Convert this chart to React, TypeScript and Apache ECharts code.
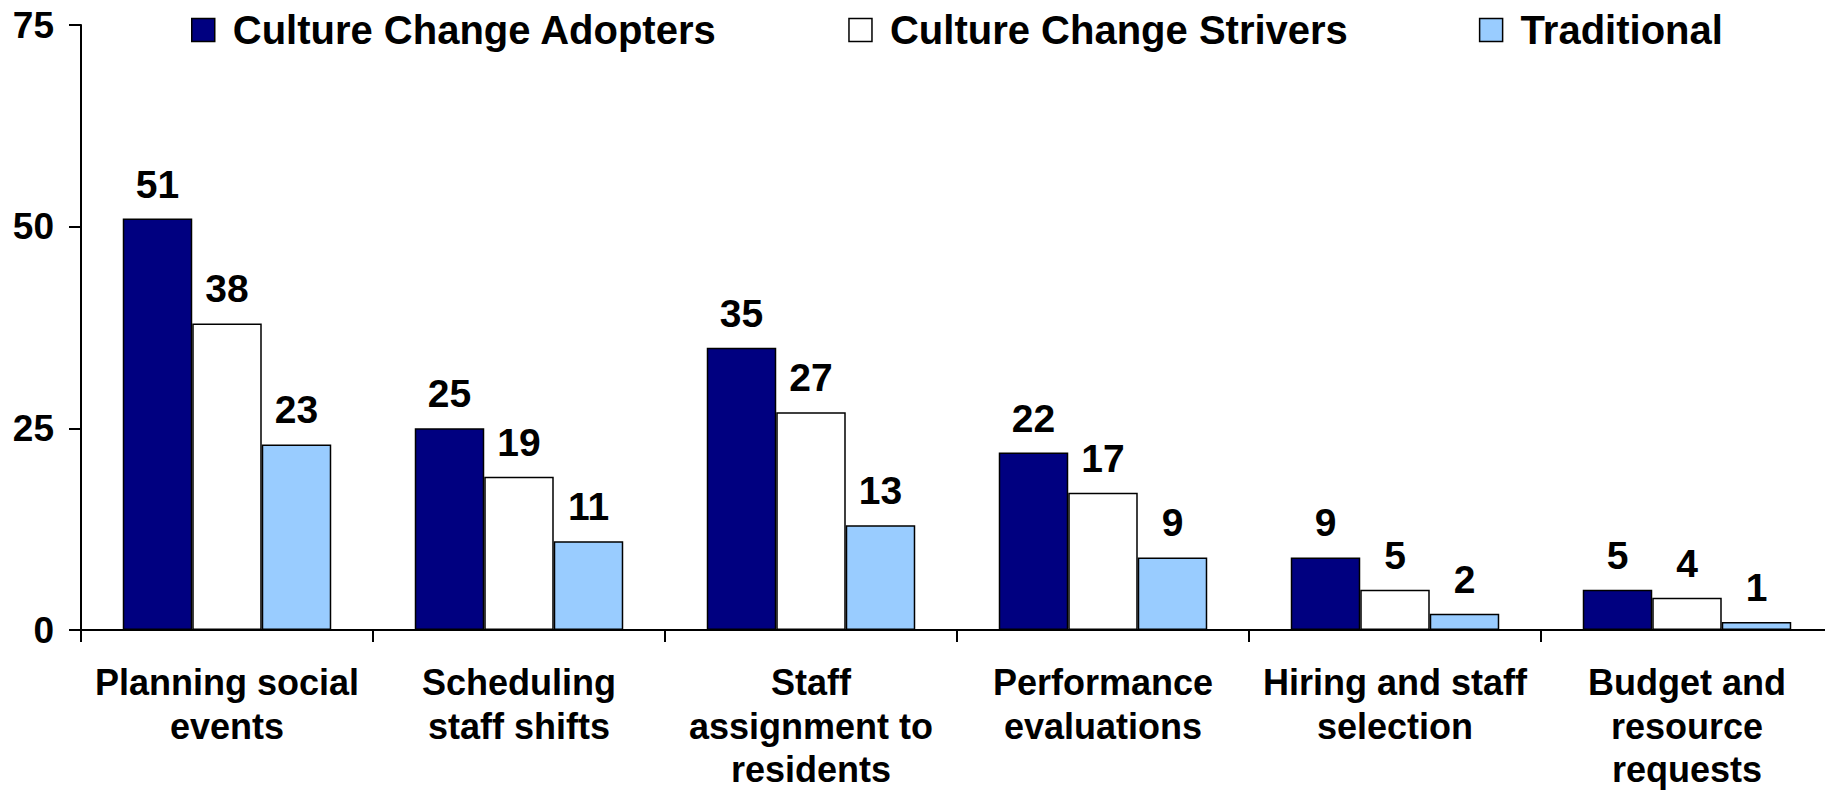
import React, { useEffect, useRef } from "react";
import * as echarts from "echarts";

const categories = [
  "Planning social\nevents",
  "Scheduling\nstaff shifts",
  "Staff\nassignment to\nresidents",
  "Performance\nevaluations",
  "Hiring and staff\nselection",
  "Budget and\nresource\nrequests",
];
const seriesNames = ["Culture Change Adopters", "Culture Change Strivers", "Traditional"];
const adopters = [51, 25, 35, 22, 9, 5];
const strivers = [38, 19, 27, 17, 5, 4];
const traditional = [23, 11, 13, 9, 2, 1];
const seriesColors = ["#000080", "#FFFFFF", "#99CCFF"];
const yTicks = { min: 0, max: 75, interval: 25 };

export default function App() {
  const ref = useRef<HTMLDivElement>(null);
  useEffect(() => {
    document.body.style.margin = "0";
    document.body.style.overflow = "hidden";
    if (!ref.current) return;
    const chart = echarts.init(ref.current, null, { renderer: "svg" });
    const font = "'Liberation Sans', Arial, sans-serif";
    const values = [adopters, strivers, traditional];
    chart.setOption({
      animation: false,
      backgroundColor: "#ffffff",
      textStyle: { fontFamily: font },
      legend: {
        left: 191,
        top: 10,
        padding: 0,
        itemGap: 131,
        itemWidth: 23,
        itemHeight: 23,
        icon: "rect",
        itemStyle: { borderColor: "#000", borderWidth: 1.5 },
        textStyle: {
          fontFamily: font,
          fontSize: 40,
          fontWeight: "bold",
          color: "#000",
          padding: [0, 0, 0, 13],
        },
        data: seriesNames,
      },
      grid: {
        left: 81,
        top: 25,
        width: 1752,
        height: 605,
        containLabel: false,
        outerBoundsMode: "none",
      },
      xAxis: {
        type: "category",
        data: categories,
        axisLine: { lineStyle: { color: "#000", width: 2 } },
        axisTick: { show: true, length: 12, lineStyle: { color: "#000", width: 2 } },
        axisLabel: {
          interval: 0,
          margin: 31,
          fontFamily: font,
          fontSize: 36,
          fontWeight: "bold",
          color: "#000",
          lineHeight: 43.5,
          align: "center",
        },
      },
      yAxis: {
        type: "value",
        min: yTicks.min,
        max: yTicks.max,
        interval: yTicks.interval,
        splitLine: { show: false },
        axisLine: { show: true, lineStyle: { color: "#000", width: 2 } },
        axisTick: { show: true, length: 12, lineStyle: { color: "#000", width: 2 } },
        axisLabel: {
          margin: 27,
          fontFamily: font,
          fontSize: 37,
          fontWeight: "bold",
          color: "#000",
        },
      },
      series: seriesNames.map((name, i) => ({
        name,
        type: "bar",
        data: values[i],
        barGap: "0%",
        barCategoryGap: "28.6%",
        itemStyle: { color: seriesColors[i], borderColor: "#000", borderWidth: 1.5 },
        label: {
          show: true,
          position: "top",
          distance: 15,
          fontFamily: font,
          fontSize: 39,
          fontWeight: "bold",
          color: "#000",
        },
      })),
    });
    return () => chart.dispose();
  }, []);
  return <div ref={ref} style={{ width: 1825, height: 795, overflow: "hidden" }} />;
}
